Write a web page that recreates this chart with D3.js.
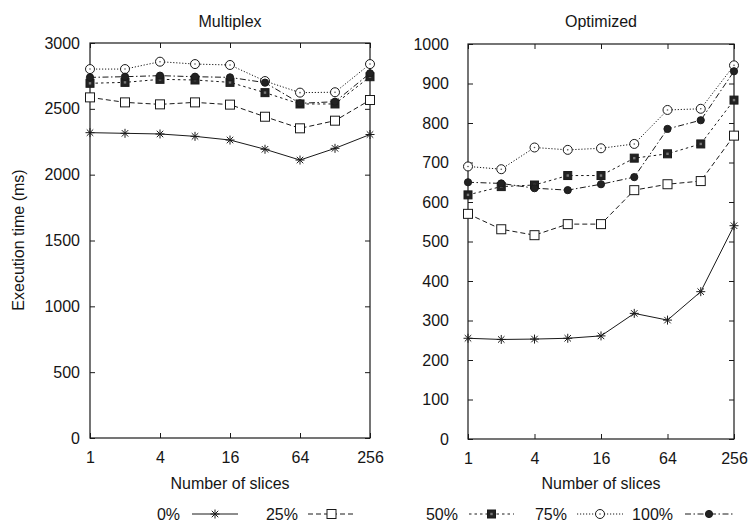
<!DOCTYPE html>
<html>
<head>
<meta charset="utf-8">
<script src="https://cdn.jsdelivr.net/npm/d3@7"></script>
<style>
  html, body { margin: 0; padding: 0; background: #fff; }
  svg { display: block; }
  text { font-family: "Liberation Sans", Arial, Helvetica, sans-serif; fill: #151515; }
</style>
</head>
<body>
<svg id="chart" width="749" height="525"></svg>
<script>
// Number of slices on the x axis (log2 spaced)
const slices = [1, 2, 4, 8, 16, 32, 64, 128, 256];
const sliceTicks = [1, 4, 16, 64, 256];

// Series labels (fraction of load)
const seriesNames = ["0%", "25%", "50%", "75%", "100%"];

// Multiplex execution time (ms)
const multiplex0   = [2319, 2314, 2309, 2291, 2263, 2193, 2111, 2200, 2305];
const multiplex25  = [2587, 2549, 2534, 2549, 2532, 2440, 2352, 2410, 2567];
const multiplex50  = [2694, 2701, 2724, 2719, 2701, 2623, 2537, 2537, 2744];
const multiplex75  = [2802, 2802, 2858, 2840, 2833, 2711, 2623, 2626, 2840];
const multiplex100 = [2739, 2744, 2752, 2744, 2739, 2699, 2542, 2554, 2770];

// Optimized execution time (ms)
const optimized0   = [255, 252, 253, 255, 261, 318, 301, 373, 540];
const optimized25  = [570, 531, 516, 544, 544, 630, 645, 653, 768];
const optimized50  = [618, 639, 643, 667, 667, 711, 722, 747, 858];
const optimized75  = [690, 683, 738, 732, 736, 747, 833, 836, 946];
const optimized100 = [650, 647, 635, 630, 645, 663, 785, 807, 931];

// Y axis tick values
const multiplexTicks = [0, 500, 1000, 1500, 2000, 2500, 3000];
const optimizedTicks = [0, 100, 200, 300, 400, 500, 600, 700, 800, 900, 1000];

// Line dash and marker per series
const styles = [
  { dash: null,        marker: "star" },
  { dash: "5,3",       marker: "square" },
  { dash: "2.5,3",     marker: "filledSquare" },
  { dash: "1.2,1.8",   marker: "circle" },
  { dash: "6,2.5,1.5,2.5", marker: "filledCircle" }
];

const INK = "#1a1a1a";
const svg = d3.select("#chart");

function drawMarker(g, type, x, y) {
  if (type === "star") {
    const r = 4.5;
    const p = d3.path();
    p.moveTo(x - r, y); p.lineTo(x + r, y);
    p.moveTo(x, y - r); p.lineTo(x, y + r);
    const d = r * 0.72;
    p.moveTo(x - d, y - d); p.lineTo(x + d, y + d);
    p.moveTo(x - d, y + d); p.lineTo(x + d, y - d);
    g.append("path").attr("d", p.toString()).attr("stroke", INK).attr("stroke-width", 1).attr("fill", "none");
  } else if (type === "square") {
    g.append("rect").attr("x", x - 4.5).attr("y", y - 4.5).attr("width", 9).attr("height", 9)
      .attr("fill", "#fff").attr("stroke", INK).attr("stroke-width", 1);
  } else if (type === "filledSquare") {
    g.append("rect").attr("x", x - 4).attr("y", y - 4).attr("width", 8).attr("height", 8)
      .attr("fill", "#222").attr("stroke", INK).attr("stroke-width", 1);
    g.append("rect").attr("x", x - 1.2).attr("y", y - 1.2).attr("width", 2.4).attr("height", 2.4)
      .attr("fill", "#777");
  } else if (type === "circle") {
    g.append("circle").attr("cx", x).attr("cy", y).attr("r", 4.5)
      .attr("fill", "#fff").attr("stroke", INK).attr("stroke-width", 1);
    g.append("circle").attr("cx", x).attr("cy", y).attr("r", 0.8).attr("fill", "#555");
  } else if (type === "filledCircle") {
    g.append("circle").attr("cx", x).attr("cy", y).attr("r", 3.6)
      .attr("fill", "#222").attr("stroke", INK).attr("stroke-width", 1);
  }
}

function panel(opts) {
  const { left, right, top, bottom, yMax, yTicks, series, title, labelGap } = opts;
  const x = d3.scaleLog().base(2).domain([1, 256]).range([left, right]);
  const y = d3.scaleLinear().domain([0, yMax]).range([bottom, top]);
  const g = svg.append("g");

  // Ticks drawn inward on all four sides
  const axL = g.append("g").attr("transform", `translate(${left},0)`)
    .call(d3.axisLeft(y).tickValues(yTicks).tickSize(-5).tickPadding(labelGap).tickFormat(d3.format("d")));
  const axR = g.append("g").attr("transform", `translate(${right},0)`)
    .call(d3.axisRight(y).tickValues(yTicks).tickSize(-5).tickFormat(""));
  const axB = g.append("g").attr("transform", `translate(0,${bottom})`)
    .call(d3.axisBottom(x).tickValues(sliceTicks).tickSize(-5).tickPadding(14).tickFormat(d3.format("d")));
  const axT = g.append("g").attr("transform", `translate(0,${top})`)
    .call(d3.axisTop(x).tickValues(sliceTicks).tickSize(-5).tickFormat(""));
  [axL, axR, axB, axT].forEach(a => {
    a.select(".domain").remove();
    a.selectAll(".tick line").attr("stroke", INK).attr("stroke-width", 1);
    a.selectAll(".tick text").attr("font-size", 16).attr("fill", "#151515")
      .attr("font-family", '"Liberation Sans", Arial, sans-serif');
  });

  // Frame
  g.append("rect").attr("x", left).attr("y", top).attr("width", right - left).attr("height", bottom - top)
    .attr("fill", "none").attr("stroke", INK).attr("stroke-width", 1.2);

  // Title
  g.append("text").attr("x", (left + right) / 2).attr("y", 27).attr("text-anchor", "middle")
    .attr("font-size", 16).text(title);

  // X axis label
  g.append("text").attr("x", (left + right) / 2).attr("y", 489).attr("text-anchor", "middle")
    .attr("font-size", 16).text("Number of slices");

  // Series lines then markers
  const line = d3.line().x((d, i) => x(slices[i])).y(d => y(d));
  series.forEach((vals, si) => {
    g.append("path").datum(vals).attr("d", line).attr("fill", "none")
      .attr("stroke", INK).attr("stroke-width", 1)
      .attr("stroke-dasharray", styles[si].dash);
  });
  series.forEach((vals, si) => {
    const mg = g.append("g");
    vals.forEach((v, i) => drawMarker(mg, styles[si].marker, x(slices[i]), y(v)));
  });
}

panel({
  left: 90, right: 370, top: 43, bottom: 438, yMax: 3000, yTicks: multiplexTicks,
  title: "Multiplex", labelGap: 10,
  series: [multiplex0, multiplex25, multiplex50, multiplex75, multiplex100]
});

panel({
  left: 468, right: 734, top: 44, bottom: 439, yMax: 1000, yTicks: optimizedTicks,
  title: "Optimized", labelGap: 19,
  series: [optimized0, optimized25, optimized50, optimized75, optimized100]
});

// Y axis title
svg.append("text").attr("transform", "translate(24,240) rotate(-90)")
  .attr("text-anchor", "middle").attr("font-size", 16).text("Execution time (ms)");

// Legend: label right-aligned, then a sample line with its marker
const legendItems = [
  { label: seriesNames[0], textRight: 180, x0: 192, x1: 238 },
  { label: seriesNames[1], textRight: 298, x0: 308, x1: 355 },
  { label: seriesNames[2], textRight: 458, x0: 469, x1: 514 },
  { label: seriesNames[3], textRight: 567, x0: 577, x1: 623 },
  { label: seriesNames[4], textRight: 673, x0: 685, x1: 733 }
];
const legY = 514;
const leg = svg.append("g");
legendItems.forEach((it, i) => {
  leg.append("text").attr("x", it.textRight).attr("y", legY + 6).attr("text-anchor", "end")
    .attr("font-size", 16).text(it.label);
  leg.append("line").attr("x1", it.x0).attr("x2", it.x1).attr("y1", legY).attr("y2", legY)
    .attr("stroke", INK).attr("stroke-width", 1).attr("stroke-dasharray", styles[i].dash);
  drawMarker(leg, styles[i].marker, (it.x0 + it.x1) / 2, legY);
});
</script>
</body>
</html>
